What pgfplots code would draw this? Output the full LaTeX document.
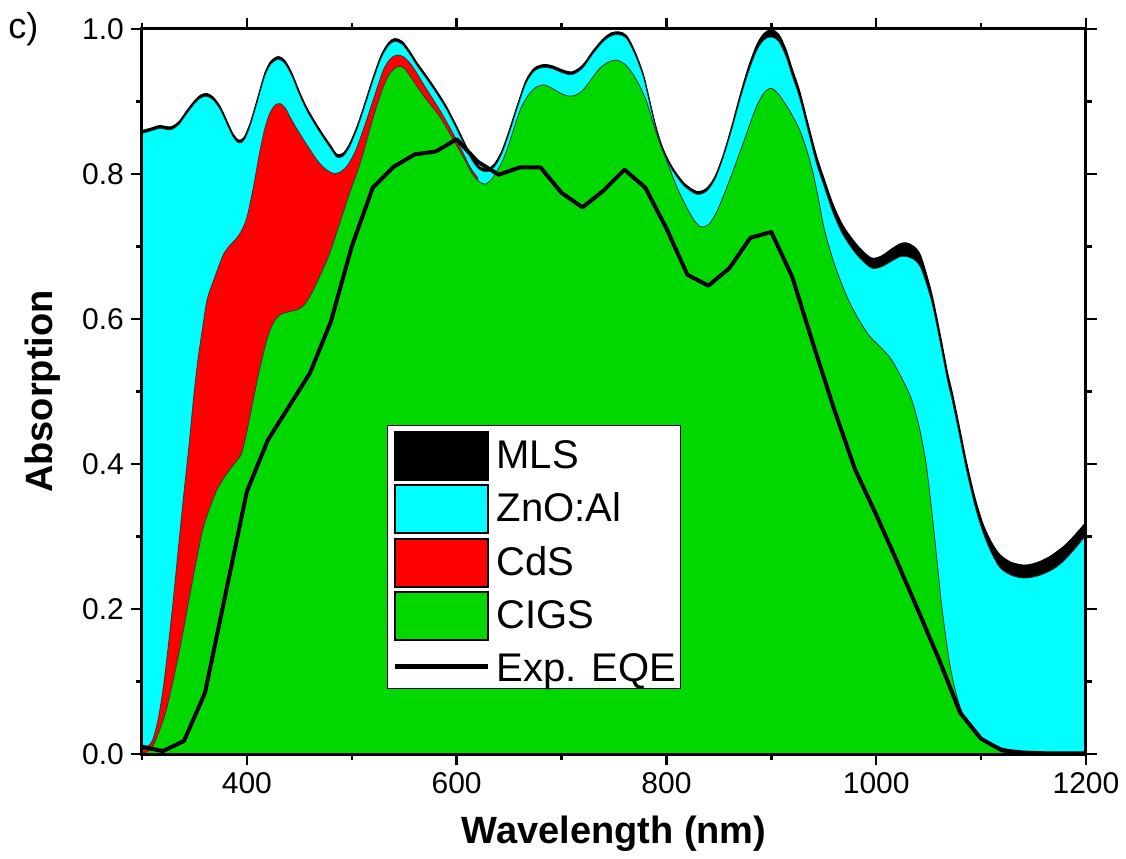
\documentclass[border=0pt]{standalone}
\usepackage{fontspec}
\setmainfont{Liberation Sans}
\usepackage{pgfplots}
\pgfplotsset{compat=1.18}
\definecolor{cy}{RGB}{0,255,255}
\definecolor{rd}{RGB}{255,0,0}
\definecolor{gr}{RGB}{0,216,0}
\begin{document}
\begin{tikzpicture}
\path[use as bounding box] (-71pt,-52pt) rectangle (492pt,377pt);
\begin{axis}[
  scale only axis, width=472pt, height=362.5pt,
  xmin=300, xmax=1200, ymin=0, ymax=1,
  axis on top,
  xtick={400,600,...,1200}, minor xtick={300,500,...,1100},
  ytick={0,0.2,...,1.0}, minor ytick={0.1,0.3,...,0.9},
  tick align=outside, major tick length=5.5pt, minor tick length=3pt,
  every tick/.style={black, line width=1.2pt},
  axis line style={line width=1.5pt},
  ticklabel style={font=\fontsize{15}{18}\selectfont},
  /pgf/number format/assume math mode=true,
  /pgf/number format/1000 sep={},
  yticklabel style={/pgf/number format/.cd, fixed, fixed zerofill, precision=1},
  xlabel={Wavelength (nm)}, ylabel={Absorption},
  label style={font=\fontsize{19}{23}\selectfont\bfseries},
  xlabel style={at={(axis description cs:0.5,-0.1228)}, anchor=base},
  ylabel style={at={(axis description cs:-0.1049,0.5)}, anchor=center},
  legend style={at={(0.2595,0.4538)}, anchor=north west, draw=black, line width=0.6pt,
    fill=white, inner xsep=2.5pt, inner ysep=2.5pt, row sep=1.75pt, column sep=3pt,
    font=\fontsize{20}{24}\selectfont, cells={anchor=base west},
    nodes={inner sep=0pt, text height=18.3pt, text depth=1pt}},
]
% MLS (total absorption)
\addplot[fill=black, draw=black, line width=0.4pt, smooth,
  legend image code/.code={\draw[fill=black,draw=black,line width=1pt] (0pt,-5.7pt) rectangle (46.5pt,18.3pt);}]
coordinates {
(300,0.860) (310,0.864) (317,0.867) (327,0.865) (335,0.872) (342,0.886) (350,0.901) (356,0.909) (362,0.911) (368,0.906) (375,0.892) (382,0.870) (387,0.855) (392,0.847) (397,0.850) (403,0.870) (410,0.904) (417,0.939) (423,0.956) (430,0.962) (436,0.957) (443,0.939) (450,0.914) (457,0.892) (465,0.872) (472,0.856) (480,0.839) (486,0.827) (492,0.829) (498,0.842) (505,0.866) (512,0.896) (520,0.932) (528,0.964) (535,0.981) (541,0.987) (548,0.983) (555,0.970) (562,0.954) (570,0.938) (580,0.917) (590,0.894) (600,0.866) (608,0.842) (615,0.822) (622,0.810) (629,0.807) (636,0.814) (643,0.832) (650,0.860) (658,0.896) (666,0.929) (674,0.946) (683,0.951) (692,0.949) (700,0.944) (710,0.941) (720,0.950) (730,0.970) (740,0.987) (748,0.995) (755,0.996) (762,0.991) (770,0.969) (778,0.938) (784,0.902) (790,0.866) (796,0.838) (803,0.816) (810,0.800) (818,0.786) (829,0.776) (838,0.780) (846,0.796) (854,0.826) (862,0.865) (870,0.908) (878,0.947) (886,0.978) (893,0.994) (900,0.999) (907,0.993) (914,0.972) (920,0.945) (927,0.915) (935,0.870) (943,0.826) (951,0.791) (959,0.758) (968,0.730) (978,0.709) (987,0.694) (996,0.684) (1005,0.687) (1015,0.697) (1023,0.704) (1029,0.705) (1036,0.700) (1042,0.689) (1048,0.662) (1054,0.629) (1062,0.572) (1068,0.527) (1073,0.496) (1080,0.447) (1086,0.404) (1094,0.355) (1102,0.317) (1110,0.292) (1118,0.275) (1128,0.265) (1138,0.261) (1145,0.261) (1155,0.265) (1165,0.272) (1172,0.279) (1180,0.288) (1190,0.303) (1200,0.320)
} \closedcycle;
\addlegendentry{MLS}
% ZnO:Al
\addplot[fill=cy, draw=black!80, line width=0.4pt, smooth,
  legend image code/.code={\draw[fill=cy,draw=black,line width=1pt] (0pt,-5.7pt) rectangle (46.5pt,18.3pt);}]
coordinates {
(300,0.856) (310,0.860) (317,0.863) (327,0.861) (335,0.868) (342,0.882) (350,0.897) (356,0.905) (362,0.907) (368,0.902) (375,0.888) (382,0.866) (387,0.851) (392,0.843) (397,0.846) (403,0.866) (410,0.900) (417,0.935) (423,0.952) (430,0.958) (436,0.953) (443,0.935) (450,0.910) (457,0.888) (465,0.868) (472,0.852) (480,0.835) (486,0.823) (492,0.825) (498,0.838) (505,0.862) (512,0.892) (520,0.928) (528,0.960) (535,0.977) (541,0.983) (548,0.979) (555,0.966) (562,0.950) (570,0.934) (580,0.913) (590,0.890) (600,0.862) (608,0.838) (615,0.818) (622,0.806) (629,0.803) (636,0.810) (643,0.828) (650,0.856) (658,0.892) (666,0.925) (674,0.942) (683,0.947) (692,0.945) (700,0.940) (710,0.937) (720,0.946) (730,0.966) (740,0.983) (748,0.991) (755,0.992) (762,0.987) (770,0.965) (778,0.934) (784,0.898) (790,0.862) (796,0.834) (803,0.812) (810,0.796) (818,0.782) (829,0.772) (838,0.776) (846,0.792) (854,0.822) (862,0.860) (870,0.902) (878,0.940) (886,0.970) (893,0.985) (900,0.989) (907,0.983) (914,0.962) (920,0.935) (927,0.905) (935,0.860) (943,0.815) (951,0.780) (959,0.746) (968,0.717) (978,0.695) (987,0.680) (996,0.670) (1005,0.672) (1015,0.680) (1023,0.686) (1029,0.686) (1036,0.682) (1042,0.672) (1048,0.648) (1054,0.617) (1062,0.560) (1068,0.515) (1073,0.484) (1080,0.435) (1086,0.392) (1094,0.343) (1102,0.305) (1110,0.277) (1118,0.257) (1128,0.247) (1138,0.243) (1145,0.243) (1155,0.246) (1165,0.252) (1172,0.258) (1180,0.268) (1190,0.284) (1200,0.302)
} \closedcycle;
\addlegendentry{ZnO:Al}
% CdS
\addplot[fill=rd, draw=black!80, line width=0.4pt, smooth,
  legend image code/.code={\draw[fill=rd,draw=black,line width=1pt] (0pt,-5.7pt) rectangle (46.5pt,18.3pt);}]
coordinates {
(300,0.005) (305,0.010) (310,0.019) (315,0.045) (320,0.088) (325,0.148) (330,0.215) (335,0.288) (340,0.360) (345,0.428) (349,0.488) (353,0.540) (357,0.580) (362,0.626) (368,0.652) (373,0.672) (378,0.690) (384,0.702) (390,0.711) (395,0.722) (400,0.740) (406,0.780) (412,0.828) (417,0.862) (422,0.884) (427,0.895) (432,0.897) (437,0.890) (441,0.879) (446,0.866) (452,0.852) (460,0.834) (467,0.819) (474,0.808) (482,0.801) (488,0.802) (495,0.810) (503,0.830) (511,0.861) (520,0.900) (530,0.943) (537,0.959) (543,0.964) (550,0.961) (558,0.948) (570,0.920) (584,0.888) (595,0.860) (606,0.829) (613,0.809) (620,0.795)
} \closedcycle;
\addlegendentry{CdS}
% CIGS
\addplot[fill=gr, draw=black!80, line width=0.4pt, smooth,
  legend image code/.code={\draw[fill=gr,draw=black,line width=1pt] (0pt,-5.7pt) rectangle (46.5pt,18.3pt);}]
coordinates {
(300,0.000) (305,0.003) (310,0.010) (316,0.030) (323,0.060) (331,0.110) (339,0.167) (345,0.215) (352,0.268) (358,0.310) (365,0.341) (372,0.366) (381,0.387) (390,0.404) (395,0.415) (400,0.445) (406,0.488) (412,0.530) (419,0.571) (425,0.594) (432,0.606) (440,0.610) (448,0.613) (453,0.617) (458,0.626) (465,0.645) (472,0.667) (479,0.691) (488,0.730) (498,0.774) (505,0.802) (511,0.829) (520,0.876) (530,0.920) (537,0.940) (544,0.948) (550,0.946) (558,0.930) (570,0.905) (584,0.879) (595,0.852) (606,0.824) (615,0.800) (621,0.790) (627,0.786) (633,0.792) (638,0.803) (644,0.819) (650,0.842) (655,0.865) (662,0.893) (670,0.912) (676,0.920) (683,0.923) (690,0.919) (697,0.913) (705,0.908) (712,0.908) (720,0.915) (728,0.930) (736,0.945) (744,0.954) (752,0.957) (760,0.952) (768,0.938) (775,0.920) (781,0.900) (787,0.872) (793,0.845) (800,0.819) (810,0.782) (820,0.752) (827,0.735) (833,0.727) (840,0.730) (847,0.745) (855,0.772) (864,0.806) (875,0.850) (885,0.890) (893,0.912) (900,0.918) (907,0.910) (915,0.893) (921,0.878) (927,0.861) (934,0.832) (940,0.800) (945,0.765) (950,0.727) (956,0.695) (962,0.668) (972,0.631) (983,0.600) (994,0.576) (1007,0.557) (1015,0.543) (1022,0.525) (1028,0.508) (1034,0.488) (1040,0.457) (1044,0.430) (1048,0.396) (1053,0.335) (1057,0.280) (1062,0.210) (1066,0.165) (1070,0.125) (1075,0.090) (1080,0.065) (1086,0.045) (1094,0.028) (1102,0.019) (1112,0.012) (1121,0.008) (1135,0.004) (1150,0.002) (1175,0.001) (1200,0.000)
} \closedcycle;
\addlegendentry{CIGS}
% Experimental EQE
\addplot[black, line width=2pt, line join=round,
  legend image code/.code={\draw[black,line width=2.5pt] (0pt,7.5pt) -- (46.5pt,7.5pt);}]
coordinates {
(300,0.010) (320,0.004) (340,0.018) (360,0.084) (380,0.223) (400,0.362) (420,0.433) (440,0.479) (460,0.525) (480,0.596) (500,0.700) (520,0.781) (540,0.810) (560,0.827) (580,0.831) (600,0.848) (620,0.817) (640,0.799) (660,0.809) (680,0.809) (700,0.774) (720,0.754) (740,0.777) (760,0.806) (780,0.781) (800,0.725) (820,0.661) (840,0.646) (860,0.670) (880,0.712) (900,0.720) (920,0.658) (940,0.565) (960,0.475) (980,0.392) (1000,0.330) (1020,0.265) (1040,0.198) (1060,0.130) (1080,0.057) (1100,0.021) (1120,0.005) (1140,0.002) (1160,0.001) (1180,0.001) (1200,0.001)
};
\addlegendentry{Exp. EQE}
\end{axis}
\node[anchor=base west, font=\fontsize{18}{21}\selectfont, inner sep=0pt] at (-67pt,357.5pt) {c)};
\end{tikzpicture}
\end{document}
